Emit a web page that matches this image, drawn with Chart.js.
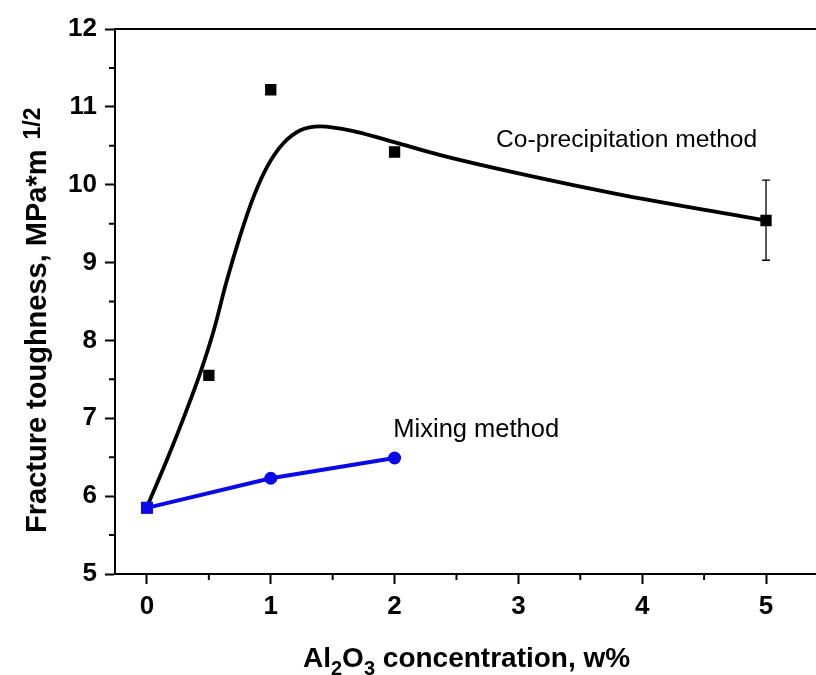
<!DOCTYPE html>
<html>
<head>
<meta charset="utf-8">
<script src="https://cdn.jsdelivr.net/npm/chart.js@4.4.0/dist/chart.umd.min.js"></script>
<style>
  html, body { margin: 0; padding: 0; background: #fff; }
  #wrap { width: 816px; height: 675px; }
</style>
</head>
<body>
<div id="wrap"><canvas id="myChart" width="816" height="675"></canvas></div>
<script>
// tick values
var xTickValues = [0, 1, 2, 3, 4, 5];
var xMinorTicks = [0.5, 1.5, 2.5, 3.5, 4.5];
var yTickValues = [5, 6, 7, 8, 9, 10, 11, 12];
var yMinorTicks = [5.5, 6.5, 7.5, 8.5, 9.5, 10.5, 11.5];

// co-precipitation measurements
var coprecipX = [0, 0.5, 1, 2, 5];
var coprecipY = [5.85, 7.55, 11.22, 10.42, 9.54];
// error bar (only on the last point)
var errX = [5];
var errLow = [9.03];
var errHigh = [10.06];

// fitted curve
var fitX = [0, 0.16, 0.29, 0.43, 0.54, 0.64, 0.75, 0.86, 0.97, 1.10, 1.24, 1.40, 1.69, 1.99, 2.37, 2.82, 3.77, 5];
var fitY = [5.86, 6.46, 6.98, 7.58, 8.13, 8.74, 9.33, 9.84, 10.23, 10.53, 10.70, 10.75, 10.68, 10.55, 10.38, 10.21, 9.89, 9.54];

// mixing method
var mixingX = [0, 1, 2];
var mixingY = [5.85, 6.23, 6.49];

var BLUE = '#0a0ae8';
var FONT = '"Liberation Sans", Arial, sans-serif';

function pts(xs, ys) {
    return xs.map(function (x, i) { return { x: x, y: ys[i] }; });
}

// minor ticks, top frame, error bar, text labels, axis titles
var extras = {
    id: 'extras',
    afterDatasetsDraw: function (chart) {
        var ctx = chart.ctx, a = chart.chartArea, sx = chart.scales.x, sy = chart.scales.y;
        ctx.save();
        ctx.strokeStyle = '#000';
        ctx.lineWidth = 2;
        ctx.beginPath();
        xMinorTicks.forEach(function (v) {
            var px = sx.getPixelForValue(v);
            ctx.moveTo(px, a.bottom); ctx.lineTo(px, a.bottom + 6);
        });
        yMinorTicks.forEach(function (v) {
            var py = sy.getPixelForValue(v);
            ctx.moveTo(a.left, py); ctx.lineTo(a.left - 6, py);
        });
        // top frame line, and both axis lines run on to the edge of the picture
        ctx.moveTo(a.left, a.top); ctx.lineTo(chart.width, a.top);
        ctx.moveTo(a.right, a.bottom); ctx.lineTo(chart.width, a.bottom);
        ctx.stroke();

        // error bar
        ctx.lineWidth = 1.3;
        ctx.beginPath();
        errX.forEach(function (v, i) {
            var px = sx.getPixelForValue(v);
            var y1 = sy.getPixelForValue(errHigh[i]), y2 = sy.getPixelForValue(errLow[i]);
            ctx.moveTo(px, y1); ctx.lineTo(px, y2);
            ctx.moveTo(px - 4, y1); ctx.lineTo(px + 4, y1);
            ctx.moveTo(px - 4, y2); ctx.lineTo(px + 4, y2);
        });
        ctx.stroke();

        // series labels
        ctx.fillStyle = '#000';
        ctx.textBaseline = 'alphabetic';
        ctx.textAlign = 'left';
        ctx.font = '24.6px ' + FONT;
        ctx.fillText('Co-precipitation method', sx.getPixelForValue(2.82), sy.getPixelForValue(10.48));
        ctx.font = '25.5px ' + FONT;
        ctx.fillText('Mixing method', sx.getPixelForValue(1.99), sy.getPixelForValue(6.76));

        // x axis title with subscripts
        var x0 = 303, base = 667;
        var parts = [['Al', 0], ['2', 1], ['O', 0], ['3', 1], [' concentration, w%', 0]];
        parts.forEach(function (p) {
            ctx.font = (p[1] ? 'bold 20px ' : 'bold 28px ') + FONT;
            ctx.fillText(p[0], x0, base + (p[1] ? 8 : 0));
            x0 += ctx.measureText(p[0]).width;
        });

        // y axis title with superscript
        ctx.translate(46, 533);
        ctx.rotate(-Math.PI / 2);
        ctx.font = 'bold 29px ' + FONT;
        var main = 'Fracture toughness, MPa*m';
        ctx.fillText(main, 0, 0);
        var w = ctx.measureText(main).width;
        ctx.font = 'bold 23px ' + FONT;
        ctx.fillText('1/2', w + 10, -6);
        ctx.restore();
    }
};

var ctx = document.getElementById('myChart').getContext('2d');

var myChart = new Chart(ctx, {
    type: 'scatter',
    data: {
        datasets: [{
            label: 'Mixing method',
            data: pts(mixingX, mixingY),
            showLine: true,
            borderColor: BLUE,
            borderWidth: 4,
            backgroundColor: BLUE,
            pointStyle: ['rect', 'circle', 'circle'],
            pointRadius: [8.5, 6.5, 6.5],
            pointBorderWidth: 0,
            order: 0
        }, {
            label: 'Co-precipitation fit',
            data: pts(fitX, fitY),
            showLine: true,
            borderColor: '#000',
            borderWidth: 3.8,
            pointRadius: 0,
            cubicInterpolationMode: 'monotone',
            order: 2
        }, {
            label: 'Co-precipitation method',
            data: pts(coprecipX, coprecipY),
            backgroundColor: '#000',
            pointStyle: 'rect',
            pointRadius: 8,
            pointBorderWidth: 0,
            order: 1
        }]
    },
    options: {
        responsive: false,
        animation: false,
        events: [],
        layout: { padding: { top: 29, left: 0, right: 0, bottom: 0 } },
        plugins: {
            legend: { display: false },
            tooltip: { enabled: false }
        },
        scales: {
            x: {
                type: 'linear',
                min: -0.258,
                max: 5.335,
                afterBuildTicks: function (scale) {
                    scale.ticks = xTickValues.map(function (v) { return { value: v }; });
                },
                afterFit: function (scale) { scale.height = 101; },
                border: { color: '#000', width: 2 },
                grid: { drawOnChartArea: false, tickLength: 10, tickWidth: 2, tickColor: '#000' },
                ticks: {
                    color: '#000',
                    padding: 7,
                    maxRotation: 0,
                    font: { family: FONT, size: 26, weight: 'bold' }
                }
            },
            y: {
                min: 5,
                max: 12,
                afterBuildTicks: function (scale) {
                    scale.ticks = yTickValues.map(function (v) { return { value: v }; });
                },
                afterFit: function (scale) { scale.width = 115; },
                border: { color: '#000', width: 2 },
                grid: { drawOnChartArea: false, tickLength: 10, tickWidth: 2, tickColor: '#000' },
                ticks: {
                    color: '#000',
                    padding: 8,
                    font: { family: FONT, size: 26, weight: 'bold' }
                }
            }
        }
    },
    plugins: [extras]
});
</script>
</body>
</html>
